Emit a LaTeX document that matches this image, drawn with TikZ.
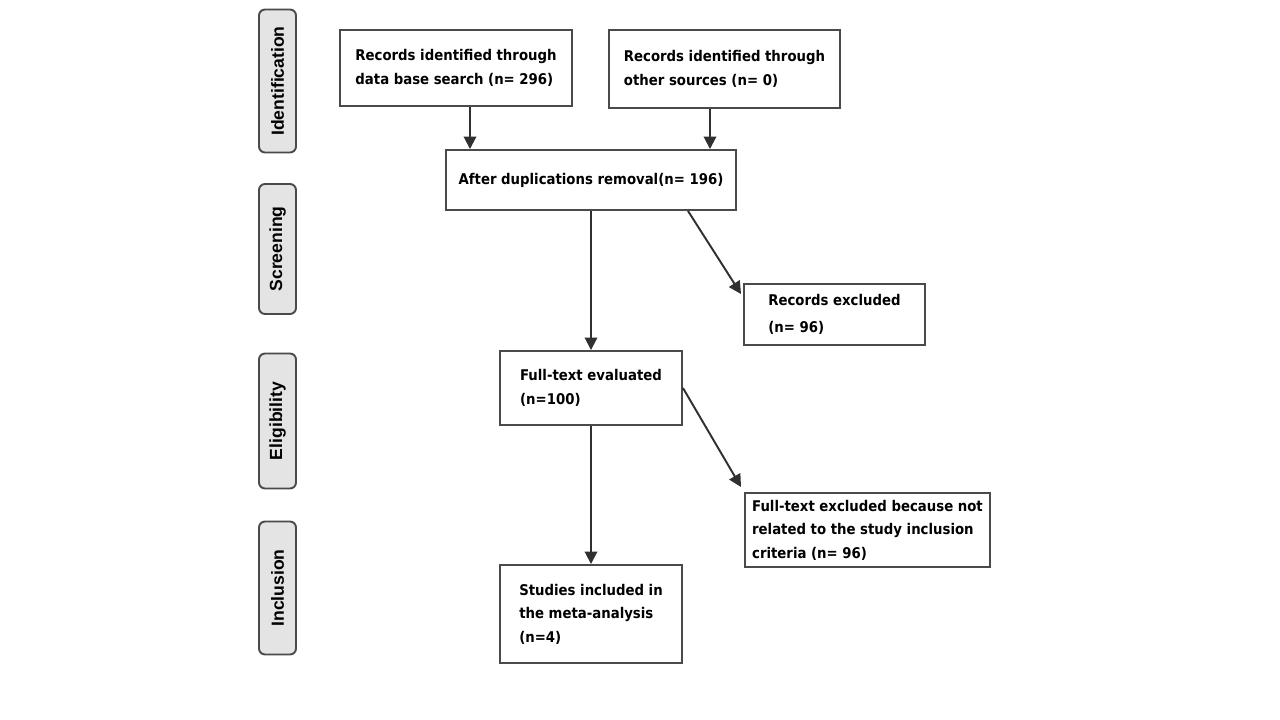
\documentclass[tikz,border=0pt]{standalone}
\usepackage{fontspec}
\setmainfont{DejaVu Sans Condensed}
\newfontfamily\stagefont{Liberation Sans}
\usetikzlibrary{arrows.meta, calc}
\definecolor{cline}{HTML}{4A4A4A}
\definecolor{cstage}{HTML}{E4E4E4}
\definecolor{carrow}{HTML}{303030}
\tikzset{
  every picture/.style={line width=1.1pt},
  box/.style={draw=cline, fill=white, align=left, inner sep=0pt, font=\bfseries\fontsize{8.4}{13.4}\selectfont},
  stage/.style={draw=cline, fill=cstage, rounded corners=1.2mm, rotate=90, minimum height=7.4mm, inner sep=0pt, font=\stagefont\bfseries\fontsize{10}{12}\selectfont},
  arrow/.style={-{Triangle[length=2.5mm, width=2.5mm]}, draw=carrow},
}

\begin{document}
\begin{tikzpicture}[x=0.2mm, y=-0.2mm]
  \useasboundingbox (0,0) rectangle (1280,720);
  % stages
  \node[stage, minimum width=28.6mm] (ident) at (277.5,81) {Identification};
  \node[stage, minimum width=26mm] (screen) at (277.5,249) {Screening};
  \node[stage, minimum width=27mm] (elig) at (277.5,421) {Eligibility};
  \node[stage, minimum width=26.6mm] (inclu) at (277.5,588) {Inclusion};
  % boxes
  \node[box, minimum width=46.4mm, minimum height=15.2mm] (dbsearch) at (456,68) {Records identified through\\data base search (n= 296)};
  \node[box, minimum width=46.2mm, minimum height=15.6mm] (other) at (724.5,69) {Records identified through\\other sources (n= 0)};
  \node[box, minimum width=58mm, minimum height=12mm] (dup) at (591,180) {After duplications removal(n= 196)};
  \node[box, minimum width=36.2mm, minimum height=12.2mm] (recexcl) at (834.5,314.5) {Records excluded\\[2pt](n= 96)};
  \node[box, minimum width=36.4mm, minimum height=14.8mm] (fulltext) at (591,388) {Full-text evaluated\\(n=100)};
  \node[box, minimum width=49mm, minimum height=14.8mm] (ftexcl) at (867.5,530) {Full-text excluded because not\\related to the study inclusion\\criteria (n= 96)};
  \node[box, minimum width=36.4mm, minimum height=19.6mm] (studies) at (591,614) {Studies included in\\the meta-analysis\\(n=4)};
  % arrows
  \draw[arrow] ($(dbsearch.south)+(14,0)$) -- ($(dbsearch.south |- dup.north)+(14,0)$);
  \draw[arrow] ($(other.south)+(-14.5,0)$) -- ($(other.south |- dup.north)+(-14.5,0)$);
  \draw[arrow] (dup.south) -- (fulltext.north);
  \draw[arrow] ($(dup.south)+(97,0)$) -- ($(recexcl.north west)+(-2,11)$);
  \draw[arrow] (fulltext.east) -- ($(ftexcl.north west)+(-3,-5)$);
  \draw[arrow] (fulltext.south) -- (studies.north);
\end{tikzpicture}
\end{document}
